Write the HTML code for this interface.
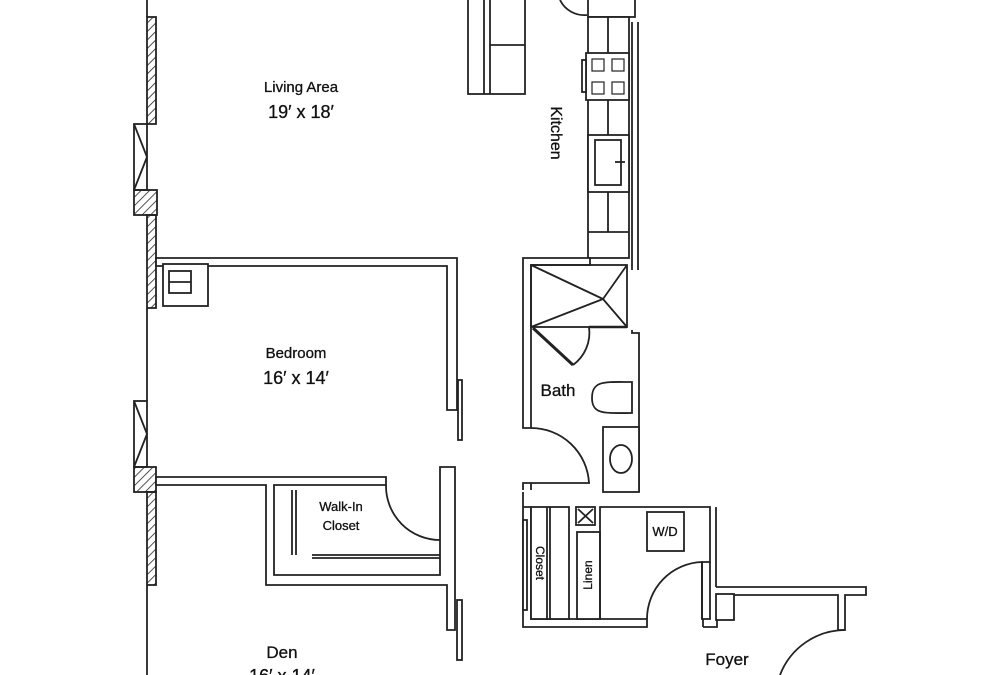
<!DOCTYPE html>
<html><head><style>
html,body{margin:0;padding:0;background:#fff;}
svg{display:block;}
text{font-family:"Liberation Sans",sans-serif;fill:#111;stroke:#111;stroke-width:0.3;}
</style></head><body>
<svg width="1000" height="675" viewBox="0 0 1000 675" xmlns="http://www.w3.org/2000/svg">
<defs>
<pattern id="h" width="6" height="6" patternUnits="userSpaceOnUse" patternTransform="rotate(45)">
<line x1="0" y1="0" x2="0" y2="6" stroke="#222" stroke-width="1.6"/>
</pattern>
</defs>
<rect width="1000" height="675" fill="#fff"/>
<g fill="#fff" stroke="#222" stroke-width="1.8">
<line x1="147" y1="0" x2="147" y2="17"/>
<rect x="147" y="17" width="9" height="107" fill="url(#h)"/>
<rect x="134" y="124" width="13" height="66"/>
<line x1="134" y1="124" x2="147" y2="157"/><line x1="147" y1="157" x2="134" y2="190"/>
<rect x="134" y="190" width="23" height="25" fill="url(#h)"/>
<rect x="147" y="215" width="9" height="93" fill="url(#h)"/>
<line x1="147" y1="308" x2="147" y2="401"/>
<rect x="134" y="401" width="13" height="66"/>
<line x1="134" y1="401" x2="147" y2="434"/><line x1="147" y1="434" x2="134" y2="467"/>
<rect x="134" y="467" width="22" height="25" fill="url(#h)"/>
<rect x="147" y="492" width="9" height="93" fill="url(#h)"/>
<line x1="147" y1="585" x2="147" y2="675"/>

<rect x="468" y="-2" width="57" height="96"/>
<line x1="490" y1="0" x2="490" y2="94"/><line x1="484" y1="0" x2="484" y2="94"/>
<line x1="490" y1="45" x2="525" y2="45"/>

<rect x="588" y="-2" width="47" height="19"/>
<path d="M560 0 A 27 27 0 0 0 587 15" fill="none"/>
<rect x="588" y="17" width="41" height="241"/>
<line x1="608" y1="17" x2="608" y2="232"/>
<line x1="588" y1="232" x2="629" y2="232"/>
<rect x="586" y="53" width="43" height="47"/>
<rect x="582" y="60" width="4" height="32"/>
<g stroke-width="1.2"><rect x="592" y="59" width="12" height="12"/><rect x="612" y="59" width="12" height="12"/><rect x="592" y="82" width="12" height="12"/><rect x="612" y="82" width="12" height="12"/></g>
<rect x="588" y="135" width="41" height="57"/>
<rect x="595" y="140" width="26" height="45"/>
<line x1="615" y1="162" x2="625" y2="162"/>
<line x1="632" y1="22" x2="632" y2="270"/><line x1="638" y1="22" x2="638" y2="270"/>

<path d="M156 258 H457 V410 H447 V266 H156 Z"/>
<rect x="458" y="380" width="4" height="60"/>
<rect x="163" y="264" width="45" height="42"/>
<rect x="169" y="271" width="22" height="22"/><line x1="169" y1="282" x2="191" y2="282"/>

<path d="M156 477 H386 V485 H274 V575 H440 V467 H455 V630 H447 V585 H266 V485 H156 Z"/>
<line x1="292" y1="490" x2="292" y2="555"/><line x1="296" y1="490" x2="296" y2="555"/>
<line x1="312" y1="555" x2="440" y2="555"/><line x1="312" y1="558" x2="440" y2="558"/>
<path d="M386 485 A 54 54 0 0 0 440 540" fill="none"/>
<rect x="457" y="600" width="5" height="60"/>

<path d="M523 258 H590 V265 H531 V428 H523 Z"/>
<rect x="531" y="265" width="96" height="62" fill="none"/>
<line x1="531" y1="265" x2="603" y2="299"/><line x1="627" y1="265" x2="603" y2="299"/>
<line x1="531" y1="327" x2="603" y2="299"/><line x1="627" y1="327" x2="603" y2="299"/>
<line x1="533" y1="328" x2="573" y2="365" stroke-width="3"/>
<path d="M573 365 A 40 40 0 0 0 589 327" fill="none"/>
<line x1="589" y1="327" x2="627" y2="327" stroke-width="2.5"/>
<path d="M632 330 V333 H639 V492" fill="none"/>
<path d="M592 398 C592 380 605 382 632 382 V413 C605 413 592 415 592 398 Z"/>
<rect x="603" y="427" width="36" height="65"/>
<ellipse cx="621" cy="459" rx="11" ry="14"/>
<path d="M531 428 A 58 58 0 0 1 589 483" fill="none"/>
<path d="M523 490 V483 H590" fill="none"/><line x1="531" y1="483" x2="531" y2="490"/>

<path d="M523 492 V627 H647 V619 H531 V507 H523" fill="none"/>
<rect x="523" y="520" width="4" height="90"/>
<rect x="531" y="507" width="38" height="112"/>
<line x1="550" y1="507" x2="550" y2="619"/><line x1="547" y1="507" x2="547" y2="619"/>
<rect x="576" y="507" width="19" height="18"/>
<line x1="578" y1="509" x2="593" y2="523"/><line x1="593" y1="509" x2="578" y2="523"/>
<rect x="577" y="532" width="23" height="87"/>
<path d="M600 619 V507 H710 V562 H702 V619" fill="none"/>
<path d="M702 562 V619 H710 V562" fill="none"/>
<path d="M702 562 A 57 57 0 0 0 647 619" fill="none"/>
<rect x="647" y="512" width="37" height="39"/>
<line x1="716" y1="507" x2="716" y2="587"/>
<path d="M703 627 H717 V595 H838 V630 H845 V595 H866 V587 H716" fill="none"/>
<line x1="703" y1="619" x2="703" y2="627"/>
<rect x="716" y="594" width="18" height="26"/>
<path d="M845 630 A 70 70 0 0 0 780 675" fill="none"/>
</g>

<g font-size="15" text-anchor="middle">
<text x="301" y="92">Living Area</text>
<text x="301" y="118" font-size="18">19′ x 18′</text>
<text x="296" y="358">Bedroom</text>
<text x="296" y="384" font-size="18">16′ x 14′</text>
<text x="558" y="396" font-size="17">Bath</text>
<text x="341" y="511" font-size="13">Walk-In</text>
<text x="341" y="530" font-size="13">Closet</text>
<text x="665" y="536" font-size="13">W/D</text>
<text x="282" y="658" font-size="17">Den</text>
<text x="282" y="682" font-size="18">16′ x 14′</text>
<text x="727" y="665" font-size="17">Foyer</text>
<text transform="translate(551,133) rotate(90)" font-size="16">Kitchen</text>
<text transform="translate(536,563) rotate(90)" font-size="12">Closet</text>
<text transform="translate(592,575) rotate(-90)" font-size="12">Linen</text>
</g>
</svg>
</body></html>
